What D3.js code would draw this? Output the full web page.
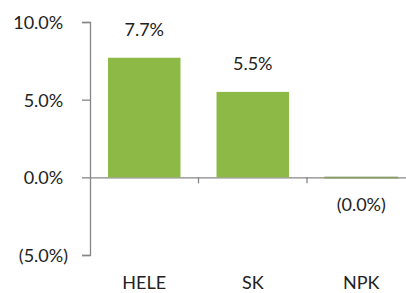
<!DOCTYPE html>
<html>
<head>
<meta charset="utf-8">
<script src="https://cdn.jsdelivr.net/npm/d3@7"></script>
<style>
  body { margin: 0; background: #fff; }
  text { font-family: Lato, "Open Sans", sans-serif; fill: #222; }
</style>
</head>
<body>
<div id="chart"></div>
<script>
// chart data
var categories = ["HELE", "SK", "NPK"];
var values = [7.7, 5.5, -0.03];
var valueLabels = ["7.7%", "5.5%", "(0.0%)"];
var yTicks = [-5, 0, 5, 10];

var svgWidth = 406;
var svgHeight = 293;

var svg = d3.select("#chart")
  .append("svg")
  .attr("width", svgWidth)
  .attr("height", svgHeight);

var xScale = d3.scaleBand()
  .domain(categories)
  .range([90, 415.5])
  .paddingInner(0.332)
  .paddingOuter(0.166);

var yScale = d3.scaleLinear()
  .domain([-5, 10])
  .range([255, 22]);

var axisColor = "#868686";

// y axis labels, Excel style number format with "_)" padding
function tickText(v) {
  return v < 0 ? "(" + Math.abs(v).toFixed(1) + "%)" : v.toFixed(1) + "%";
}

var yAxis = d3.axisLeft(yScale)
  .tickValues(yTicks)
  .tickSize(8)
  .tickFormat("");

var yG = svg.append("g")
  .attr("transform", "translate(90,0)")
  .call(yAxis);
yG.select(".domain").attr("stroke", axisColor).attr("stroke-width", 1.3);
yG.selectAll(".tick line").attr("stroke", axisColor).attr("stroke-width", 1.3);
yG.selectAll(".tick text").remove();
yG.selectAll(".tick").append("text")
  .attr("x", -22)
  .attr("dy", "0.36em")
  .attr("text-anchor", "end")
  .style("font-size", "18px")
  .style("fill", "#222")
  .each(function (d) {
    var t = d3.select(this);
    t.append("tspan").text(tickText(d));
    if (d >= 0) t.append("tspan").text(")").style("fill-opacity", 0);
  });

// category axis on the zero line
var xAxis = d3.axisBottom(xScale).tickSize(0).tickFormat("");
var xG = svg.append("g")
  .attr("transform", `translate(0, ${yScale(0)})`)
  .call(xAxis);
xG.select(".domain").attr("stroke", axisColor).attr("stroke-width", 1.3);

// divider ticks between categories
var step = xScale.step();
svg.selectAll("line.divider")
  .data(categories.slice(1))
  .enter()
  .append("line")
  .attr("class", "divider")
  .attr("x1", d => xScale(d) - xScale.paddingInner() * step / 2)
  .attr("x2", d => xScale(d) - xScale.paddingInner() * step / 2)
  .attr("y1", yScale(0))
  .attr("y2", yScale(0) + 6)
  .attr("stroke", axisColor)
  .attr("stroke-width", 1.3);

// bars (drawn over the zero line, so the tiny NPK bar shows as a line)
svg.selectAll("rect.bar")
  .data(values)
  .enter()
  .append("rect")
  .attr("class", "bar")
  .attr("x", (d, i) => xScale(categories[i]))
  .attr("width", xScale.bandwidth())
  .attr("y", d => yScale(Math.max(0, d)))
  .attr("height", d => Math.abs(yScale(d) - yScale(0)))
  .attr("fill", d => d >= 0 ? "#8DBA46" : "#8A9E6A")
  .attr("stroke", d => d >= 0 ? "none" : "#8A9E6A")
  .attr("stroke-width", 1.4);

// data labels
svg.selectAll("text.val")
  .data(values)
  .enter()
  .append("text")
  .attr("class", "val")
  .attr("x", (d, i) => xScale(categories[i]) + xScale.bandwidth() / 2)
  .attr("y", d => d >= 0 ? yScale(d) - 22 : yScale(0) + 34)
  .attr("text-anchor", "middle")
  .style("font-size", "18px")
  .text((d, i) => valueLabels[i]);

// category labels
svg.selectAll("text.cat")
  .data(categories)
  .enter()
  .append("text")
  .attr("class", "cat")
  .attr("x", d => xScale(d) + xScale.bandwidth() / 2)
  .attr("y", 289)
  .attr("text-anchor", "middle")
  .style("font-size", "18px")
  .text(d => d);
</script>
</body>
</html>
